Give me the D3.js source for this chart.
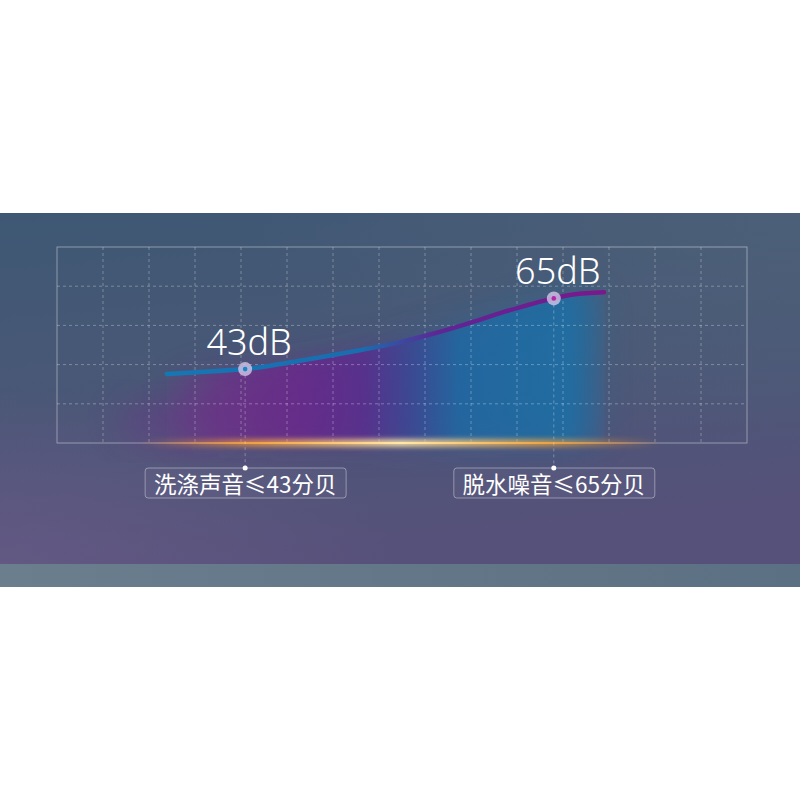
<!DOCTYPE html>
<html>
<head lang="zh">
    <meta charset="UTF-8">
    <title>noise</title>
    <style>
        html, body { margin: 0; padding: 0; background: #fff; }
        svg { display: block; }
    </style>
</head>
<body>
<script src="https://cdn.jsdelivr.net/npm/d3@7"></script>
<script>

    // curve samples: x in grid columns, y in dB
    var curveX  = [2.39, 3.11, 4.09, 5.28, 6.37, 7.46, 8.17, 8.91, 9.63, 10.35, 10.8, 11.22, 11.89];
    var curveDb = [41.5, 42.1, 43.0, 45.6, 48.3, 51.4, 54.0, 57.1, 60.4, 63.4, 65.0, 66.2, 66.9];

    // highlighted values
    var markX = [4.09, 10.8];
    var markDb = [43, 65];
    var markText = ['43dB', '65dB'];
    var labelText = ['洗涤声音≤43分贝', '脱水噪音≤65分贝'];

    var w = 800, h = 800;
    var bandTop = 213, bandBottom = 564, stripBottom = 587;
    var gx0 = 57, gx1 = 747, gy0 = 247, gy1 = 443;
    var cols = 15, rows = 5;

    var x = d3.scaleLinear().domain([0, cols]).range([gx0, gx1]);
    var y = d3.scaleLinear().domain([20, 81]).range([gy1, gy0]);

    var svg = d3.select('body')
            .append('svg')
            .attr('width', w)
            .attr('height', h);

    var defs = svg.append('defs');

    var bg = defs.append('linearGradient').attr('id', 'bg')
            .attr('x1', 0).attr('y1', 0).attr('x2', 0.2).attr('y2', 1);
    bg.append('stop').attr('offset', '0%').attr('stop-color', '#3e5874');
    bg.append('stop').attr('offset', '45%').attr('stop-color', '#485876');
    bg.append('stop').attr('offset', '100%').attr('stop-color', '#56517a');

    var glow = defs.append('radialGradient').attr('id', 'bgGlow')
            .attr('cx', 0).attr('cy', 1).attr('r', 0.5);
    glow.append('stop').attr('offset', '0%').attr('stop-color', '#665b86').attr('stop-opacity', 0.8);
    glow.append('stop').attr('offset', '100%').attr('stop-color', '#665b86').attr('stop-opacity', 0);

    var rglow = defs.append('radialGradient').attr('id', 'bgGlowR')
            .attr('cx', 1).attr('cy', 0).attr('r', 0.7);
    rglow.append('stop').attr('offset', '0%').attr('stop-color', '#4f6179').attr('stop-opacity', 0.8);
    rglow.append('stop').attr('offset', '100%').attr('stop-color', '#4f6179').attr('stop-opacity', 0);

    var strip = defs.append('linearGradient').attr('id', 'strip');
    strip.append('stop').attr('offset', '0%').attr('stop-color', '#6b7e8e');
    strip.append('stop').attr('offset', '100%').attr('stop-color', '#5c7083');

    var areaG = defs.append('linearGradient').attr('id', 'areaFill')
            .attr('gradientUnits', 'userSpaceOnUse')
            .attr('x1', x(2.2)).attr('x2', x(12.1)).attr('y1', 0).attr('y2', 0);
    [['0%', '#7a2a8c', 0.0], ['15%', '#74278c', 0.55], ['30%', '#6b258c', 0.8], ['45%', '#5a2a90', 0.8],
     ['55%', '#3a4596', 0.8], ['66%', '#1e68a4', 0.85], ['90%', '#1a70a8', 0.8], ['100%', '#1a70a8', 0.0]]
            .forEach(function(s) {
                areaG.append('stop').attr('offset', s[0]).attr('stop-color', s[1]).attr('stop-opacity', s[2]);
            });

    var lineG = defs.append('linearGradient').attr('id', 'lineStroke')
            .attr('gradientUnits', 'userSpaceOnUse')
            .attr('x1', x(2.39)).attr('x2', x(11.89)).attr('y1', 0).attr('y2', 0);
    lineG.append('stop').attr('offset', '0%').attr('stop-color', '#1577b4');
    lineG.append('stop').attr('offset', '45%').attr('stop-color', '#1a6cae');
    lineG.append('stop').attr('offset', '62%').attr('stop-color', '#5e2694');
    lineG.append('stop').attr('offset', '100%').attr('stop-color', '#7a188c');

    var orange = defs.append('linearGradient').attr('id', 'orange')
            .attr('gradientUnits', 'userSpaceOnUse')
            .attr('x1', 140).attr('x2', 660).attr('y1', 0).attr('y2', 0);
    [['0%', '#ff9a30', 0], ['22%', '#ffa838', 0.75], ['50%', '#ffe8a8', 1], ['78%', '#ffa838', 0.75], ['100%', '#ff9a30', 0]]
            .forEach(function(s) {
                orange.append('stop').attr('offset', s[0]).attr('stop-color', s[1]).attr('stop-opacity', s[2]);
            });

    defs.append('filter').attr('id', 'blur').attr('x', '-30%').attr('y', '-30%').attr('width', '160%').attr('height', '160%')
            .append('feGaussianBlur').attr('stdDeviation', 16);
    defs.append('filter').attr('id', 'blurSmall').attr('x', '-10%').attr('y', '-300%').attr('width', '120%').attr('height', '700%')
            .append('feGaussianBlur').attr('stdDeviation', 2.5);

    // background
    svg.append('rect').attr('x', 0).attr('y', bandTop).attr('width', w).attr('height', bandBottom - bandTop).attr('fill', 'url(#bg)');
    svg.append('rect').attr('x', 0).attr('y', bandTop).attr('width', w).attr('height', bandBottom - bandTop).attr('fill', 'url(#bgGlow)');
    svg.append('rect').attr('x', 0).attr('y', bandTop).attr('width', w).attr('height', bandBottom - bandTop).attr('fill', 'url(#bgGlowR)');
    svg.append('rect').attr('x', 0).attr('y', bandBottom).attr('width', w).attr('height', stripBottom - bandBottom).attr('fill', 'url(#strip)');

    var pts = curveX.map(function(d, i) { return [d, curveDb[i]]; });

    var area = d3.area()
            .x(function(d) { return x(d[0]); })
            .y0(y(20))
            .y1(function(d) { return y(d[1]); })
            .curve(d3.curveMonotoneX);

    var line = d3.line()
            .x(function(d) { return x(d[0]); })
            .y(function(d) { return y(d[1]); })
            .curve(d3.curveMonotoneX);

    // faint purple haze left of the fill
    svg.append('ellipse')
            .attr('cx', x(2.6)).attr('cy', gy1 - 22).attr('rx', 60).attr('ry', 26)
            .attr('fill', '#6e2f8c').attr('opacity', 0.35).attr('filter', 'url(#blur)');

    // soft glow of the fill, then the fill itself
    svg.append('path').datum(pts).attr('d', area).attr('fill', 'url(#areaFill)').attr('opacity', 0.6).attr('filter', 'url(#blur)');
    svg.append('path').datum(pts).attr('d', area).attr('fill', 'url(#areaFill)').attr('opacity', 0.9);

    // grid
    var grid = svg.append('g');
    grid.selectAll('line.v')
            .data(d3.range(1, cols))
            .enter()
            .append('line')
            .attr('x1', function(d) { return x(d); })
            .attr('x2', function(d) { return x(d); })
            .attr('y1', gy0).attr('y2', gy1);
    grid.selectAll('line.h')
            .data(d3.range(1, rows))
            .enter()
            .append('line')
            .attr('x1', gx0).attr('x2', gx1)
            .attr('y1', function(d) { return gy0 + (gy1 - gy0) * d / rows; })
            .attr('y2', function(d) { return gy0 + (gy1 - gy0) * d / rows; });
    grid.selectAll('line')
            .attr('stroke', 'rgba(255,255,255,0.3)')
            .attr('stroke-width', 1)
            .attr('stroke-dasharray', '3,3');
    grid.append('rect')
            .attr('x', gx0).attr('y', gy0).attr('width', gx1 - gx0).attr('height', gy1 - gy0)
            .attr('fill', 'none').attr('stroke', 'rgba(255,255,255,0.4)').attr('stroke-width', 1);

    // orange base glow
    svg.append('rect').attr('x', 140).attr('y', gy1 - 4).attr('width', 520).attr('height', 8)
            .attr('fill', 'url(#orange)').attr('filter', 'url(#blurSmall)').attr('opacity', 0.85);
    svg.append('rect').attr('x', 140).attr('y', gy1 - 1).attr('width', 520).attr('height', 2)
            .attr('fill', 'url(#orange)');

    // drop lines
    svg.selectAll('line.drop')
            .data(markX)
            .enter()
            .append('line')
            .attr('x1', function(d) { return x(d); })
            .attr('x2', function(d) { return x(d); })
            .attr('y1', function(d, i) { return y(markDb[i]); })
            .attr('y2', 468)
            .attr('stroke', 'rgba(255,255,255,0.3)')
            .attr('stroke-dasharray', '3,3');

    // the curve
    svg.append('path').datum(pts).attr('d', line)
            .attr('fill', 'none')
            .attr('stroke', 'url(#lineStroke)')
            .attr('stroke-width', 4.5)
            .attr('stroke-linecap', 'round');

    // markers
    svg.selectAll('circle.halo')
            .data(markX)
            .enter()
            .append('circle')
            .attr('cx', function(d) { return x(d); })
            .attr('cy', function(d, i) { return y(markDb[i]); })
            .attr('r', 7)
            .attr('fill', '#d2c6e8')
            .attr('opacity', 0.8);
    svg.selectAll('circle.core')
            .data(markX)
            .enter()
            .append('circle')
            .attr('cx', function(d) { return x(d); })
            .attr('cy', function(d, i) { return y(markDb[i]); })
            .attr('r', 2.3)
            .attr('fill', function(d, i) { return i === 0 ? '#1a86c4' : '#b02aa8'; });

    svg.selectAll('text.val')
            .data(markText)
            .enter()
            .append('text')
            .text(function(d) { return d; })
            .attr('x', function(d, i) { return x(markX[i]) + 4; })
            .attr('y', function(d, i) { return y(markDb[i]) - 14; })
            .attr('text-anchor', 'middle')
            .attr('font-family', '"Noto Sans", "Liberation Sans", sans-serif')
            .attr('font-weight', 300)
            .attr('font-size', '36px')
            .attr('fill', '#ffffff');

    // labels below
    var lab = svg.selectAll('g.lab')
            .data(labelText)
            .enter()
            .append('g')
            .attr('transform', function(d, i) { return 'translate(' + x(markX[i]) + ',0)'; });
    lab.append('rect')
            .attr('x', -100).attr('y', 468).attr('width', 201).attr('height', 30).attr('rx', 3)
            .attr('fill', 'rgba(255,255,255,0.03)')
            .attr('stroke', 'rgba(255,255,255,0.38)');
    lab.append('text')
            .text(function(d) { return d; })
            .attr('x', 0).attr('y', 493)
            .attr('text-anchor', 'middle')
            .attr('font-family', '"Noto Sans CJK SC", sans-serif')
            .attr('font-size', '22.5px')
            .attr('fill', '#ffffff');
    lab.append('circle').attr('cx', 0).attr('cy', 468).attr('r', 2.5).attr('fill', '#ffffff');

</script>
</body>
</html>
